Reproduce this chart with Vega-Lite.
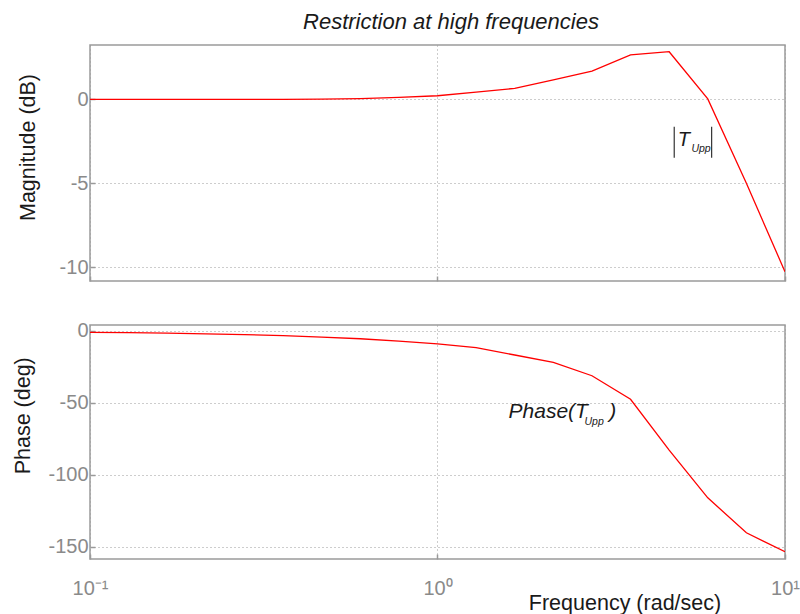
{
  "$schema": "https://vega.github.io/schema/vega-lite/v6.json",
  "padding": {"left": 11, "top": 10, "right": 5, "bottom": 5},
  "background": "white",
  "datasets": {
    "bode": [
      {"freq": 0.1, "mag": 0, "phase": -0.9},
      {"freq": 0.1292, "mag": 0, "phase": -1.17},
      {"freq": 0.1668, "mag": 0, "phase": -1.5},
      {"freq": 0.2154, "mag": 0, "phase": -1.95},
      {"freq": 0.2783, "mag": 0, "phase": -2.5},
      {"freq": 0.3594, "mag": 0, "phase": -3.25},
      {"freq": 0.4642, "mag": 0.01, "phase": -4.2},
      {"freq": 0.5995, "mag": 0.04, "phase": -5.4},
      {"freq": 0.7743, "mag": 0.12, "phase": -7.0},
      {"freq": 1.0, "mag": 0.21, "phase": -9.0},
      {"freq": 1.2915, "mag": 0.43, "phase": -11.6},
      {"freq": 1.6681, "mag": 0.65, "phase": -16.7},
      {"freq": 2.1544, "mag": 1.15, "phase": -21.8},
      {"freq": 2.7826, "mag": 1.68, "phase": -31.1},
      {"freq": 3.5938, "mag": 2.64, "phase": -47.5},
      {"freq": 4.6416, "mag": 2.83, "phase": -82.8},
      {"freq": 5.9948, "mag": 0.02, "phase": -116},
      {"freq": 7.7426, "mag": -5.0, "phase": -140.3},
      {"freq": 10.0, "mag": -10.26, "phase": -153.5}
    ],
    "notes": [
      {"panel": "mag", "role": "main", "freq": 4.91, "val": -2.76, "txt": "T"},
      {"panel": "mag", "role": "sub", "freq": 5.38, "val": -3.15, "txt": "Upp"},
      {"panel": "phase", "role": "main", "freq": 1.601, "val": -60.8, "txt": "Phase(T"},
      {"panel": "phase", "role": "sub", "freq": 2.649, "val": -65.4, "txt": "Upp"},
      {"panel": "phase", "role": "main", "freq": 3.12, "val": -60.8, "txt": ")"}
    ],
    "bars": [
      {"freq": 4.80, "lo": -3.48, "hi": -1.63},
      {"freq": 6.15, "lo": -3.48, "hi": -1.63}
    ]
  },
  "spacing": 37,
  "vconcat": [
    {
      "width": 695,
      "height": 236,
      "title": {
        "text": "Restriction at high frequencies",
        "fontStyle": "italic",
        "fontSize": 22,
        "fontWeight": "normal",
        "color": "#1a1a1a",
        "anchor": "middle",
        "frame": "group",
        "dx": 13.5,
        "offset": -6,
        "baseline": "alphabetic"
      },
      "layer": [
        {
          "data": {"name": "bode"},
          "mark": {"type": "line", "color": "#ff0000", "strokeWidth": 1.3, "clip": true},
          "encoding": {
            "x": {
              "field": "freq", "type": "quantitative",
              "scale": {"type": "log", "domain": [0.1, 10], "nice": false},
              "axis": {"values": [0.1, 1, 10], "labels": false, "title": null, "grid": true, "ticks": true, "tickSize": -5}
            },
            "y": {
              "field": "mag", "type": "quantitative",
              "scale": {"domain": [-10.81, 3.23], "nice": false, "zero": false},
              "axis": {"values": [0, -5, -10], "labelExpr": "'' + datum.value", "title": "Magnitude (dB)", "grid": true, "ticks": true, "tickSize": -5, "labelPadding": 7, "titleX": -56, "titleY": 102, "titleAlign": "center", "titleBaseline": "alphabetic"}
            }
          }
        },
        {
          "data": {"name": "bars"},
          "mark": {"type": "rule", "color": "#333333", "strokeWidth": 1.2},
          "encoding": {
            "x": {
              "field": "freq", "type": "quantitative",
              "scale": {"type": "log", "domain": [0.1, 10], "nice": false},
              "axis": {"values": [0.1, 1, 10], "labels": false, "title": null, "grid": true, "ticks": true, "tickSize": -5}
            },
            "y": {
              "field": "lo", "type": "quantitative",
              "scale": {"domain": [-10.81, 3.23], "nice": false, "zero": false},
              "axis": {"values": [0, -5, -10], "labelExpr": "'' + datum.value", "title": "Magnitude (dB)", "grid": true, "ticks": true, "tickSize": -5, "labelPadding": 7, "titleX": -56, "titleY": 102, "titleAlign": "center", "titleBaseline": "alphabetic"}
            },
            "y2": {"field": "hi"}
          }
        },
        {
          "data": {"name": "notes"},
          "transform": [{"filter": "datum.panel === 'mag' && datum.role === 'main'"}],
          "mark": {"type": "text", "align": "left", "baseline": "alphabetic", "fontStyle": "italic", "fontSize": 20, "color": "#1a1a1a"},
          "encoding": {
            "x": {
              "field": "freq", "type": "quantitative",
              "scale": {"type": "log", "domain": [0.1, 10], "nice": false},
              "axis": {"values": [0.1, 1, 10], "labels": false, "title": null, "grid": true, "ticks": true, "tickSize": -5}
            },
            "y": {
              "field": "val", "type": "quantitative",
              "scale": {"domain": [-10.81, 3.23], "nice": false, "zero": false},
              "axis": {"values": [0, -5, -10], "labelExpr": "'' + datum.value", "title": "Magnitude (dB)", "grid": true, "ticks": true, "tickSize": -5, "labelPadding": 7, "titleX": -56, "titleY": 102, "titleAlign": "center", "titleBaseline": "alphabetic"}
            },
            "text": {"field": "txt"}
          }
        },
        {
          "data": {"name": "notes"},
          "transform": [{"filter": "datum.panel === 'mag' && datum.role === 'sub'"}],
          "mark": {"type": "text", "align": "left", "baseline": "alphabetic", "fontStyle": "italic", "fontSize": 10.5, "color": "#1a1a1a"},
          "encoding": {
            "x": {
              "field": "freq", "type": "quantitative",
              "scale": {"type": "log", "domain": [0.1, 10], "nice": false},
              "axis": {"values": [0.1, 1, 10], "labels": false, "title": null, "grid": true, "ticks": true, "tickSize": -5}
            },
            "y": {
              "field": "val", "type": "quantitative",
              "scale": {"domain": [-10.81, 3.23], "nice": false, "zero": false},
              "axis": {"values": [0, -5, -10], "labelExpr": "'' + datum.value", "title": "Magnitude (dB)", "grid": true, "ticks": true, "tickSize": -5, "labelPadding": 7, "titleX": -56, "titleY": 102, "titleAlign": "center", "titleBaseline": "alphabetic"}
            },
            "text": {"field": "txt"}
          }
        }
      ]
    },
    {
      "width": 695,
      "height": 234,
      "layer": [
        {
          "data": {"name": "bode"},
          "mark": {"type": "line", "color": "#ff0000", "strokeWidth": 1.3, "clip": true},
          "encoding": {
            "x": {
              "field": "freq", "type": "quantitative",
              "scale": {"type": "log", "domain": [0.1, 10], "nice": false},
              "axis": {
                "values": [0.1, 1, 10],
                "labelExpr": "datum.value < 0.5 ? '10⁻¹' : (datum.value < 5 ? '10⁰' : '10¹')",
                "labelFlush": false, "labelOverlap": false, "labelPadding": 24,
                "title": "Frequency  (rad/sec)", "grid": true, "ticks": true, "tickSize": -5,
                "titleX": 534.5, "titleY": 50, "titleAlign": "center", "titleBaseline": "alphabetic"
              }
            },
            "y": {
              "field": "phase", "type": "quantitative",
              "scale": {"domain": [-158.55, 4.17], "nice": false, "zero": false},
              "axis": {"values": [0, -50, -100, -150], "labelExpr": "'' + datum.value", "title": "Phase (deg)", "grid": true, "ticks": true, "tickSize": -5, "labelPadding": 7, "titleX": -61, "titleY": 90.3, "titleAlign": "center", "titleBaseline": "alphabetic"}
            }
          }
        },
        {
          "data": {"name": "notes"},
          "transform": [{"filter": "datum.panel === 'phase' && datum.role === 'main'"}],
          "mark": {"type": "text", "align": "left", "baseline": "alphabetic", "fontStyle": "italic", "fontSize": 21, "color": "#1a1a1a"},
          "encoding": {
            "x": {
              "field": "freq", "type": "quantitative",
              "scale": {"type": "log", "domain": [0.1, 10], "nice": false},
              "axis": {
                "values": [0.1, 1, 10],
                "labelExpr": "datum.value < 0.5 ? '10⁻¹' : (datum.value < 5 ? '10⁰' : '10¹')",
                "labelFlush": false, "labelOverlap": false, "labelPadding": 24,
                "title": "Frequency  (rad/sec)", "grid": true, "ticks": true, "tickSize": -5,
                "titleX": 534.5, "titleY": 50, "titleAlign": "center", "titleBaseline": "alphabetic"
              }
            },
            "y": {
              "field": "val", "type": "quantitative",
              "scale": {"domain": [-158.55, 4.17], "nice": false, "zero": false},
              "axis": {"values": [0, -50, -100, -150], "labelExpr": "'' + datum.value", "title": "Phase (deg)", "grid": true, "ticks": true, "tickSize": -5, "labelPadding": 7, "titleX": -61, "titleY": 90.3, "titleAlign": "center", "titleBaseline": "alphabetic"}
            },
            "text": {"field": "txt"}
          }
        },
        {
          "data": {"name": "notes"},
          "transform": [{"filter": "datum.panel === 'phase' && datum.role === 'sub'"}],
          "mark": {"type": "text", "align": "left", "baseline": "alphabetic", "fontStyle": "italic", "fontSize": 10.5, "color": "#1a1a1a"},
          "encoding": {
            "x": {
              "field": "freq", "type": "quantitative",
              "scale": {"type": "log", "domain": [0.1, 10], "nice": false},
              "axis": {
                "values": [0.1, 1, 10],
                "labelExpr": "datum.value < 0.5 ? '10⁻¹' : (datum.value < 5 ? '10⁰' : '10¹')",
                "labelFlush": false, "labelOverlap": false, "labelPadding": 24,
                "title": "Frequency  (rad/sec)", "grid": true, "ticks": true, "tickSize": -5,
                "titleX": 534.5, "titleY": 50, "titleAlign": "center", "titleBaseline": "alphabetic"
              }
            },
            "y": {
              "field": "val", "type": "quantitative",
              "scale": {"domain": [-158.55, 4.17], "nice": false, "zero": false},
              "axis": {"values": [0, -50, -100, -150], "labelExpr": "'' + datum.value", "title": "Phase (deg)", "grid": true, "ticks": true, "tickSize": -5, "labelPadding": 7, "titleX": -61, "titleY": 90.3, "titleAlign": "center", "titleBaseline": "alphabetic"}
            },
            "text": {"field": "txt"}
          }
        }
      ]
    }
  ],
  "config": {
    "font": "Liberation Sans",
    "view": {"stroke": "#9a9a9a", "strokeWidth": 1.5},
    "axis": {
      "domain": false,
      "gridColor": "#9a9a9a",
      "gridDash": [1, 3],
      "gridWidth": 1,
      "gridOpacity": 1,
      "tickColor": "#9a9a9a",
      "tickWidth": 1.5,
      "labelColor": "#8a8a8a",
      "labelFont": "Liberation Sans",
      "labelFontSize": 20,
      "titleFont": "Liberation Sans",
      "titleFontSize": 21.5,
      "titleFontWeight": "normal",
      "titleColor": "#1a1a1a"
    }
  }
}
